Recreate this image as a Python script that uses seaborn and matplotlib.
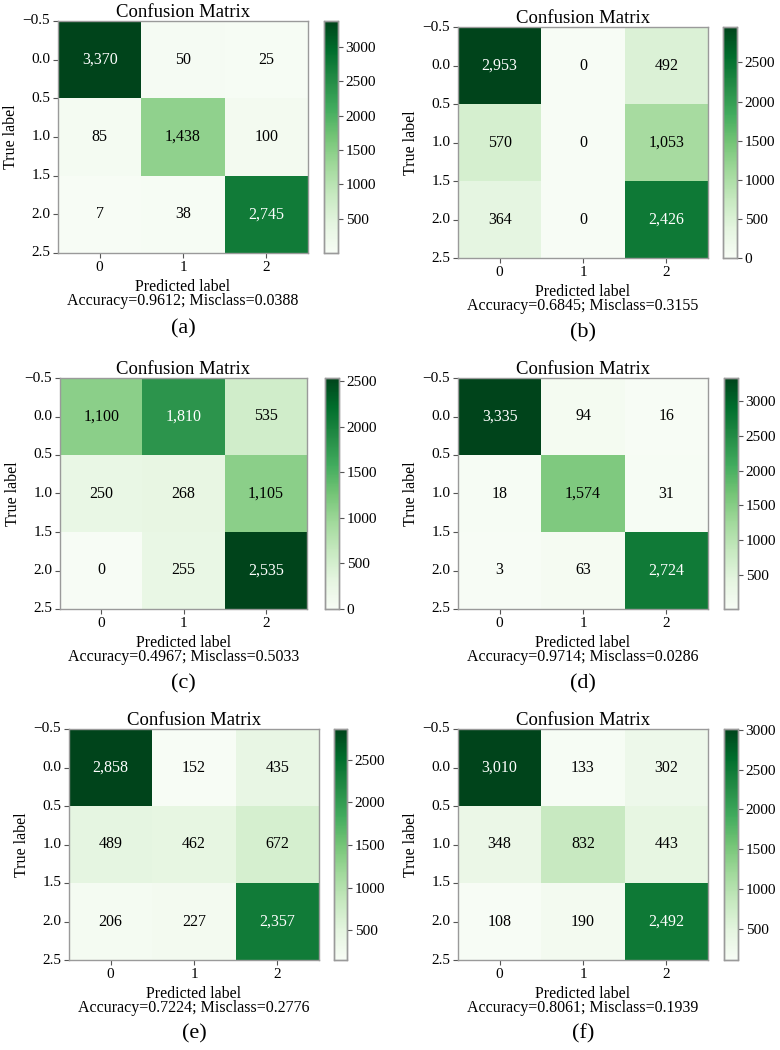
import matplotlib
matplotlib.use('Agg')
import matplotlib.pyplot as plt
import seaborn as sns
import numpy as np
from matplotlib.ticker import MultipleLocator

# Six confusion matrices (a)-(f), 3 classes each
cm_a = [[3370, 50, 25], [85, 1438, 100], [7, 38, 2745]]
cm_b = [[2953, 0, 492], [570, 0, 1053], [364, 0, 2426]]
cm_c = [[1100, 1810, 535], [250, 268, 1105], [0, 255, 2535]]
cm_d = [[3335, 94, 16], [18, 1574, 31], [3, 63, 2724]]
cm_e = [[2858, 152, 435], [489, 462, 672], [206, 227, 2357]]
cm_f = [[3010, 133, 302], [348, 832, 443], [108, 190, 2492]]

panel_names = ['(a)', '(b)', '(c)', '(d)', '(e)', '(f)']
class_ticks = ['0', '1', '2']
y_tick_values = [-0.5, 0.0, 0.5, 1.0, 1.5, 2.0, 2.5]

# axes boxes in pixels: left, top, right, bottom ; colorbar left, right
W, H = 780, 1050
boxes = [
    (58, 21, 308, 253, 324, 338),
    (458, 27, 708, 258, 723, 737),
    (60, 378, 307, 609, 325, 339),
    (458, 378, 708, 609, 724, 738),
    (69, 729, 319, 960, 334, 347),
    (458, 729, 708, 960, 724, 738),
]
label_y = [329, 333, 684, 684, 1034, 1034]

plt.rcParams['font.family'] = ['Liberation Serif', 'DejaVu Serif']

fig = plt.figure(figsize=(7.8, 10.5), dpi=100)
edge = '#9a9a9a'

matrices = [cm_a, cm_b, cm_c, cm_d, cm_e, cm_f]
for cm, name, box, ly in zip(matrices, panel_names, boxes, label_y):
    cm = np.array(cm)
    l, t, r, b, cl, cr = box
    ax = fig.add_axes([l / W, 1 - b / H, (r - l) / W, (b - t) / H])
    cax = fig.add_axes([cl / W, 1 - b / H, (cr - cl) / W, (b - t) / H])

    sns.heatmap(cm, cmap='Greens', annot=True, fmt=',d', ax=ax, cbar_ax=cax,
                annot_kws={'size': 11.5}, vmin=cm.min(), vmax=cm.max())

    # text colour: white above half of max
    thresh = cm.max() / 2
    for txt, val in zip(ax.texts, cm.flat):
        txt.set_color('white' if val > thresh else 'black')

    ax.set_xticks(np.arange(len(class_ticks)) + 0.5)
    ax.set_xticklabels(class_ticks, fontsize=11, rotation=0)
    ax.set_yticks(np.array(y_tick_values) + 0.5)
    ax.set_yticklabels([f'{v:.1f}'.replace('-', '\u2212') for v in y_tick_values],
                       fontsize=11, rotation=0)
    ax.tick_params(length=3.5, width=0.8, color='#555555', labelcolor='black',
                   pad=2, left=True, bottom=True)
    for sp in ax.spines.values():
        sp.set_visible(True)
        sp.set_color(edge)
        sp.set_linewidth(1)

    ax.set_title('Confusion Matrix', fontsize=13.5, pad=3)
    ax.set_ylabel('True label', fontsize=11.5, labelpad=3)
    acc = np.trace(cm) / cm.sum()
    ax.set_xlabel(f'Predicted label\nAccuracy={acc:.4f}; Misclass={1 - acc:.4f}',
                  fontsize=11.5, labelpad=4, linespacing=0.85)

    cax.yaxis.set_major_locator(MultipleLocator(500))
    cax.tick_params(labelsize=11, length=3.5, width=0.8, color='#555555',
                    labelcolor='black', pad=2)
    cax.set_frame_on(True)
    for sp in cax.spines.values():
        sp.set_visible(True)
        sp.set_color(edge)
        sp.set_linewidth(1)

    fig.text((l + r) / 2 / W, 1 - ly / H, name, ha='center', va='center',
             fontsize=16)

fig.savefig('out.png', dpi=100)
